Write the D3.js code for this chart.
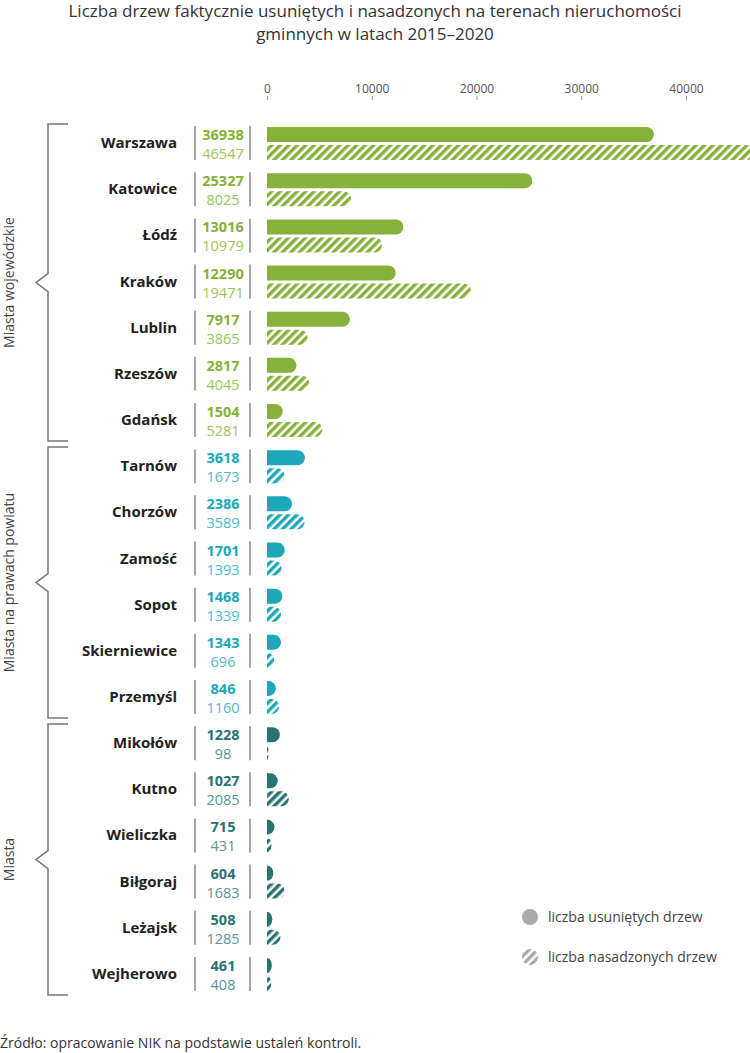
<!DOCTYPE html>
<html><head><meta charset="utf-8">
<script src="https://cdn.jsdelivr.net/npm/d3@7"></script>
<style>body{margin:0;background:#fff;font-family:"Open Sans",sans-serif}</style>
</head><body><svg width="750" height="1053"></svg>
<script>
const cities = ["Warszawa","Katowice","Łódź","Kraków","Lublin","Rzeszów","Gdańsk",
  "Tarnów","Chorzów","Zamość","Sopot","Skierniewice","Przemyśl",
  "Mikołów","Kutno","Wieliczka","Biłgoraj","Leżajsk","Wejherowo"];
const removed = [36938,25327,13016,12290,7917,2817,1504,3618,2386,1701,1468,1343,846,1228,1027,715,604,508,461];
const planted = [46547,8025,10979,19471,3865,4045,5281,1673,3589,1393,1339,696,1160,98,2085,431,1683,1285,408];
const groups = [
  {name:"Miasta wojewódzkie", from:0, to:6, color:"#86b13a", light:"#9cc45a"},
  {name:"Miasta na prawach powiatu", from:7, to:12, color:"#1ba8b8", light:"#4dbcc8"},
  {name:"Miasta", from:13, to:18, color:"#2a7374", light:"#5a9596"}
];
const ticks = [0,10000,20000,30000,40000];

const svg = d3.select("svg");
const x = d3.scaleLinear().domain([0,40000]).range([267,686]);
const y = d3.scaleBand().domain(d3.range(cities.length)).range([120,997]);
const grp = i => groups.find(g => i >= g.from && i <= g.to);

svg.append("text").attr("x",375).attr("y",17).attr("text-anchor","middle")
  .attr("font-size",17).attr("fill","#333")
  .text("Liczba drzew faktycznie usuniętych i nasadzonych na terenach nieruchomości");
svg.append("text").attr("x",375).attr("y",40).attr("text-anchor","middle")
  .attr("font-size",17).attr("fill","#333").text("gminnych w latach 2015–2020");

const defs = svg.append("defs");
groups.forEach((g,k) => {
  const p = defs.append("pattern").attr("id","h"+k).attr("patternUnits","userSpaceOnUse")
    .attr("width",6).attr("height",6).attr("patternTransform","rotate(45)");
  p.append("rect").attr("width",3.4).attr("height",6).attr("fill",g.color);
});
const lp = defs.append("pattern").attr("id","hl").attr("patternUnits","userSpaceOnUse")
  .attr("width",6).attr("height",6).attr("patternTransform","rotate(45)");
lp.append("rect").attr("width",3.4).attr("height",6).attr("fill","#aaa");

// axis
const ax = svg.append("g").attr("transform","translate(0,100)")
  .call(d3.axisTop(x).tickValues(ticks).tickFormat(d3.format("d")).tickSize(4));
ax.select(".domain").remove();
ax.selectAll("line").attr("stroke","#999");
ax.selectAll("text").attr("font-size",12).attr("fill","#555").attr("font-family","Open Sans");

const bh = 15, r = 7.5;
function pill(x0, w, yTop) {
  const rr = Math.min(r, w);
  const xe = x0 + w;
  return `M${x0},${yTop}H${xe-rr}A${rr},${r} 0 0 1 ${xe-rr},${yTop+bh}H${x0}Z`;
}

const rows = svg.append("g").selectAll("g").data(cities).join("g")
  .attr("transform",(d,i)=>`translate(0,${y(i)+y.bandwidth()/2})`);
rows.append("text").attr("x",177).attr("y",5).attr("text-anchor","end")
  .attr("font-size",15).attr("font-weight",700).attr("fill","#222").text(d=>d);
rows.append("line").attr("x1",195).attr("x2",195).attr("y1",-17).attr("y2",17).attr("stroke","#888").attr("stroke-width",1.5);
rows.append("line").attr("x1",250).attr("x2",250).attr("y1",-17).attr("y2",17).attr("stroke","#888").attr("stroke-width",1.5);
rows.append("text").attr("x",223).attr("y",-3).attr("text-anchor","middle")
  .attr("font-size",14.5).attr("font-weight",700).attr("fill",(d,i)=>grp(i).color).text((d,i)=>removed[i]);
rows.append("text").attr("x",223).attr("y",16).attr("text-anchor","middle")
  .attr("font-size",14.5).attr("fill",(d,i)=>grp(i).light).text((d,i)=>planted[i]);
rows.append("path").attr("d",(d,i)=>pill(x(0), x(removed[i])-x(0), -16)).attr("fill",(d,i)=>grp(i).color);
rows.append("path").attr("d",(d,i)=>pill(x(0), Math.max(1.5,x(planted[i])-x(0)), 2))
  .attr("fill",(d,i)=>`url(#h${groups.indexOf(grp(i))})`);

// braces
groups.forEach(g => {
  const y0 = y(g.from)+4, y1 = y(g.to)+y.bandwidth()-2, ym = (y0+y1)/2;
  svg.append("path").attr("fill","none").attr("stroke","#777").attr("stroke-width",1.5)
    .attr("d",`M68,${y0}H48V${ym-9}L36,${ym}L48,${ym+9}V${y1}H68`);
  svg.append("text").attr("transform",`translate(14,${ym}) rotate(-90)`).attr("text-anchor","middle")
    .attr("font-size",14).attr("fill","#444").text(g.name);
});

// legend
svg.append("circle").attr("cx",530).attr("cy",917).attr("r",8).attr("fill","#aaa");
svg.append("text").attr("x",548).attr("y",922).attr("font-size",14).attr("fill","#444").text("liczba usuniętych drzew");
svg.append("circle").attr("cx",530).attr("cy",957).attr("r",8).attr("fill","url(#hl)");
svg.append("text").attr("x",548).attr("y",962).attr("font-size",14).attr("fill","#444").text("liczba nasadzonych drzew");

svg.append("text").attr("x",0).attr("y",1048).attr("font-size",14).attr("fill","#333")
  .text("Źródło: opracowanie NIK na podstawie ustaleń kontroli.");
</script></body></html>
